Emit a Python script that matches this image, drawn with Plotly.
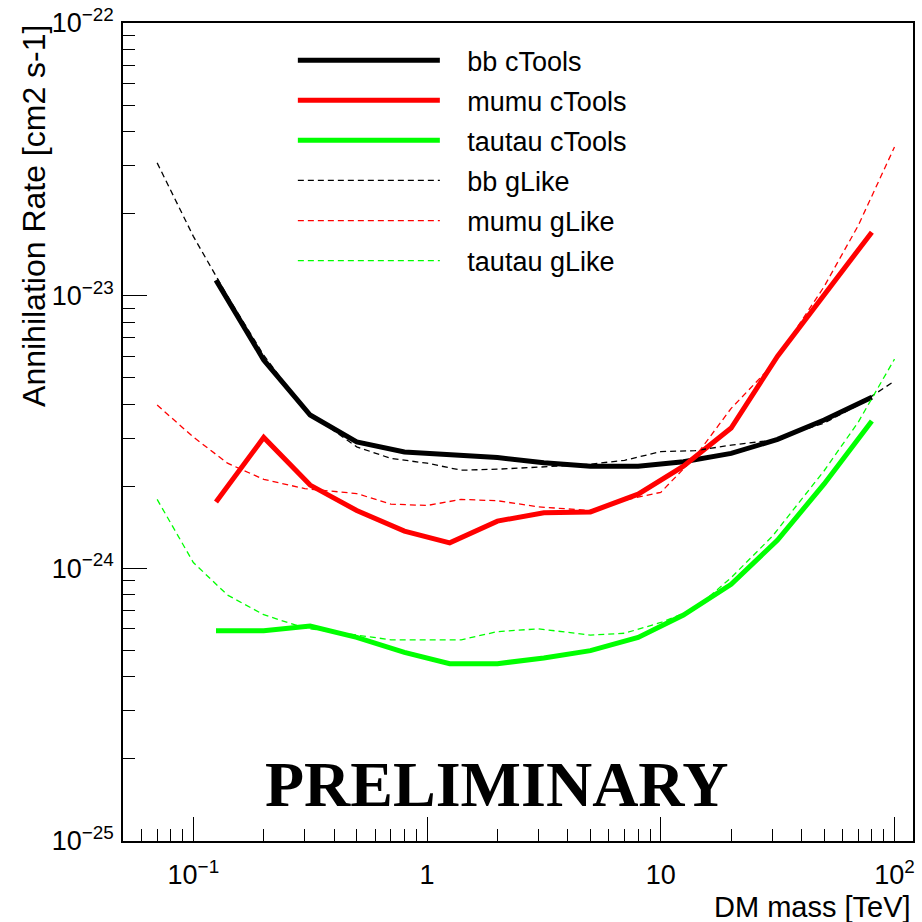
import numpy as np
import plotly.graph_objects as go

# ---------------- data ----------------
mass_ctools = [0.125, 0.2, 0.316, 0.5, 0.8, 1.25, 2, 3.16, 5, 8, 12.5, 20, 31.6, 50, 80]
bb_ctools = [1.14e-23, 5.81e-24, 3.65e-24, 2.91e-24, 2.67e-24, 2.60e-24, 2.55e-24, 2.44e-24,
             2.37e-24, 2.37e-24, 2.46e-24, 2.64e-24, 2.97e-24, 3.50e-24, 4.24e-24]
mumu_ctools = [1.75e-24, 3.02e-24, 2.02e-24, 1.63e-24, 1.37e-24, 1.24e-24, 1.49e-24, 1.60e-24,
               1.61e-24, 1.87e-24, 2.37e-24, 3.27e-24, 6.0e-24, 1.0e-23, 1.71e-23]
tautau_ctools = [5.90e-25, 5.90e-25, 6.14e-25, 5.58e-25, 4.92e-25, 4.47e-25, 4.47e-25, 4.69e-25,
                 4.99e-25, 5.58e-25, 6.74e-25, 8.74e-25, 1.27e-24, 2.04e-24, 3.47e-24]

mass_glike = [0.07, 0.1, 0.14, 0.2, 0.3, 0.5, 0.7, 1, 1.4, 2, 3, 5, 7, 10, 14, 20, 30, 50, 70, 100]
bb_glike = [3.07e-23, 1.65e-23, 9.96e-24, 6.05e-24, 3.80e-24, 2.79e-24, 2.53e-24, 2.43e-24, 2.29e-24,
            2.31e-24, 2.35e-24, 2.41e-24, 2.49e-24, 2.68e-24, 2.70e-24, 2.83e-24, 2.95e-24,
            3.41e-24, 3.97e-24, 4.86e-24]
mumu_glike = [3.97e-24, 3.03e-24, 2.43e-24, 2.12e-24, 1.96e-24, 1.88e-24, 1.72e-24, 1.70e-24, 1.79e-24,
              1.77e-24, 1.68e-24, 1.63e-24, 1.78e-24, 1.90e-24, 2.56e-24, 3.86e-24, 5.56e-24,
              1.08e-23, 1.81e-23, 3.51e-23]
tautau_glike = [1.79e-24, 1.05e-24, 7.98e-25, 6.76e-25, 6.04e-25, 5.69e-25, 5.47e-25, 5.47e-25, 5.47e-25,
                5.86e-25, 6.00e-25, 5.69e-25, 5.78e-25, 6.33e-25, 7.10e-25, 9.24e-25, 1.31e-24,
                2.28e-24, 3.44e-24, 5.85e-24]

x_tickvals = [0.1, 1, 10, 100]
x_ticktext = ["10<sup>\u22121</sup>", "1", "10", "10<sup>2</sup>"]
y_tickvals = [1e-25, 1e-24, 1e-23, 1e-22]
y_ticktext = ["10<sup>\u221225</sup>", "10<sup>\u221224</sup>", "10<sup>\u221223</sup>", "10<sup>\u221222</sup>"]

x_minor = [m * 10.0 ** d for d in (-2, -1, 0, 1) for m in range(2, 10)]
y_minor = [m * 10.0 ** d for d in (-25, -24, -23) for m in range(2, 10)]

# ---------------- figure ----------------
FONT = "Liberation Sans, Arial, Helvetica, sans-serif"
PAD = "\u00a0\u00a0\u00a0"
fig = go.Figure()

series = [
    ("bb cTools", mass_ctools, bb_ctools, "#000000", 5, "solid"),
    ("mumu cTools", mass_ctools, mumu_ctools, "#ff0000", 5, "solid"),
    ("tautau cTools", mass_ctools, tautau_ctools, "#00ff00", 5, "solid"),
    ("bb gLike", mass_glike, bb_glike, "#000000", 1.3, "6px,4px"),
    ("mumu gLike", mass_glike, mumu_glike, "#ff0000", 1.3, "6px,4px"),
    ("tautau gLike", mass_glike, tautau_glike, "#00ff00", 1.3, "6px,4px"),
]
for name, xs, ys, col, w, dash in series:
    fig.add_trace(go.Scatter(x=xs, y=ys, mode="lines", name=PAD + name, legendgroup=name,
                             line=dict(color=col, width=w, dash=dash)))

axis_common = dict(
    type="log", showgrid=False, zeroline=False, showline=True, linecolor="black",
    linewidth=1.5, mirror=True, ticks="inside", ticklen=24, tickwidth=1.2, tickcolor="black",
    tickfont=dict(family=FONT, size=27, color="black"), tickmode="array", automargin=False,
)
fig.update_xaxes(**axis_common, range=[np.log10(0.05), np.log10(120)],
                 tickvals=x_tickvals, ticktext=x_ticktext, ticklabelstandoff=9,
                 minor=dict(ticks="inside", ticklen=12, tickwidth=1.2, tickcolor="black",
                            tickmode="array", tickvals=x_minor, showgrid=False))
fig.update_yaxes(**axis_common, range=[-25, -22],
                 tickvals=y_tickvals, ticktext=y_ticktext, ticklabelstandoff=2,
                 minor=dict(ticks="inside", ticklen=12, tickwidth=1.2, tickcolor="black",
                            tickmode="array", tickvals=y_minor, showgrid=False))

fig.update_layout(
    width=922, height=922,
    margin=dict(l=123, r=9, t=23, b=81, autoexpand=False),
    paper_bgcolor="white", plot_bgcolor="white",
    font=dict(family=FONT, color="black"),
    showlegend=True,
    legend=dict(x=0.215, y=0.984, xanchor="left", yanchor="top",
                bgcolor="rgba(0,0,0,0)", borderwidth=0,
                font=dict(family=FONT, size=27, color="black"),
                itemwidth=142, tracegroupgap=2, traceorder="grouped"),
    annotations=[
        dict(text="<b>PRELIMINARY</b>", xref="paper", yref="paper", x=0.473, y=0.069,
             xanchor="center", yanchor="middle", showarrow=False,
             font=dict(family="Liberation Serif, Times New Roman, serif", size=64, color="black")),
        dict(text="Annihilation Rate [cm2 s-1]", xref="paper", yref="paper", x=-0.1127, y=1.0,
             xanchor="center", yanchor="top", textangle=-90, showarrow=False,
             font=dict(family=FONT, size=32, color="black")),
        dict(text="DM mass [TeV]", xref="paper", yref="paper", x=1.0, y=-0.0805,
             xanchor="right", yanchor="middle", showarrow=False,
             font=dict(family=FONT, size=29, color="black")),
    ],
)

fig.write_html(
    "out.html",
    config={"displayModeBar": False},
    post_script="document.body.style.margin='0px';document.body.style.overflow='hidden';"
                "document.documentElement.style.overflow='hidden';",
)
